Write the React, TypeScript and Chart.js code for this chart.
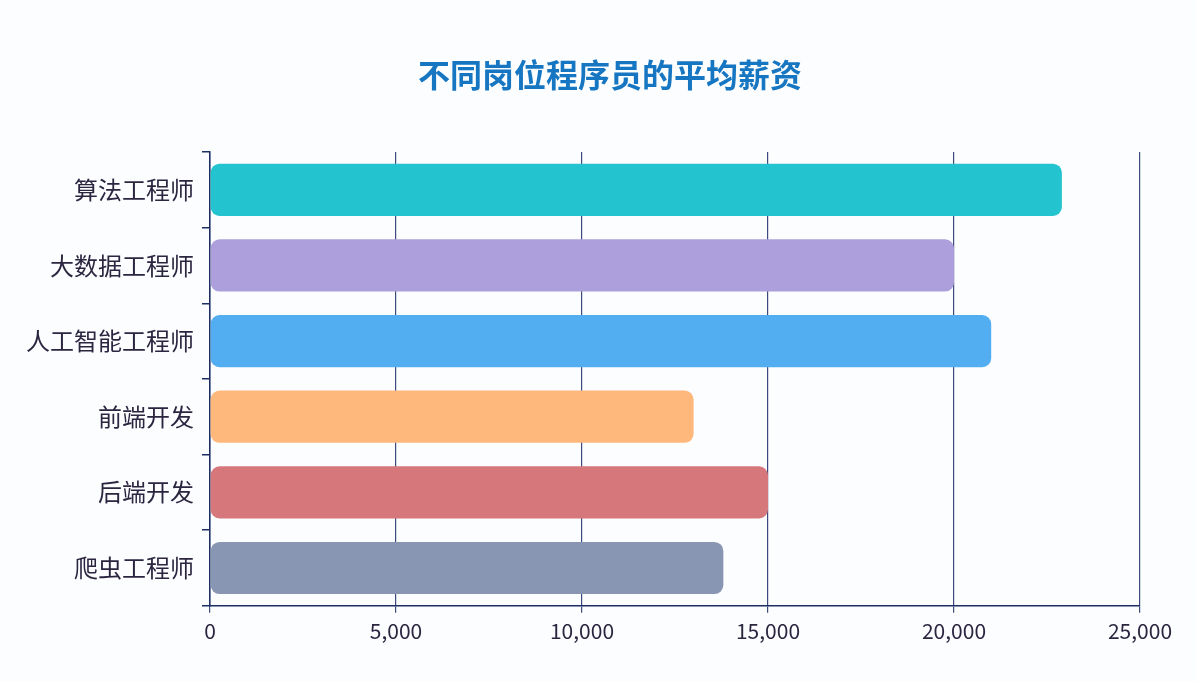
import React, { useEffect, useRef } from 'react';
import Chart from 'chart.js/auto';

const titleText = '不同岗位程序员的平均薪资';
const jobs = ['算法工程师', '大数据工程师', '人工智能工程师', '前端开发', '后端开发', '爬虫工程师'];
const salaries = [22900, 20000, 21000, 13000, 15000, 13800];
const barColors = ['#24c3d0', '#ac9fdc', '#52aef0', '#feb87b', '#d6777b', '#8896b3'];
const xTicks = [0, 5000, 10000, 15000, 20000, 25000];

const font = '"Noto Sans CJK SC", "Noto Sans", sans-serif';

// title drawn a bit right of the canvas centre, as in the original picture
const titlePlugin = {
    id: 'offsetTitle',
    afterDraw(chart: any) {
        const c = chart.ctx;
        c.save();
        c.font = `bold 32px ${font}`;
        c.fillStyle = '#1676c2';
        c.textAlign = 'center';
        c.textBaseline = 'middle';
        c.fillText(titleText, chart.width / 2 + 12, 75);
        c.restore();
    }
};

const App: React.FC = () => {
    const chartRef = useRef<HTMLCanvasElement>(null);
    const chartInstance = useRef<Chart | null>(null);

    useEffect(() => {
        document.body.style.margin = '0';
        document.body.style.background = '#fcfdff';
        if (chartRef.current) {
            if (chartInstance.current) {
                chartInstance.current.destroy();
            }
            const ctx = chartRef.current.getContext('2d');
            if (ctx) {
                chartInstance.current = new Chart(ctx, {
                    type: 'bar',
                    data: {
                        labels: jobs,
                        datasets: [{
                            data: salaries,
                            backgroundColor: barColors,
                            borderRadius: 9,
                            borderSkipped: false,
                            barPercentage: 0.69,
                            categoryPercentage: 1
                        }]
                    },
                    options: {
                        indexAxis: 'y',
                        animation: false,
                        responsive: false,
                        layout: { padding: { left: 18, right: 56, top: 152, bottom: 32 } },
                        plugins: {
                            legend: { display: false },
                            tooltip: { enabled: false },
                            title: { display: false }
                        },
                        scales: {
                            x: {
                                min: 0,
                                max: 25000,
                                afterBuildTicks: (axis: any) => {
                                    axis.ticks = xTicks.map(v => ({ value: v }));
                                },
                                ticks: {
                                    color: '#2b2540',
                                    font: { family: font, size: 21 },
                                    padding: 6,
                                    callback: (v: any) => Number(v).toLocaleString('en-US')
                                },
                                grid: {
                                    color: '#3d4a7e',
                                    lineWidth: 1.2,
                                    tickLength: 7
                                },
                                border: { color: '#1d2f62', width: 1.5 }
                            },
                            y: {
                                ticks: {
                                    color: '#2b2540',
                                    font: { family: font, size: 24 },
                                    padding: 8
                                },
                                grid: {
                                    offset: true,
                                    drawOnChartArea: false,
                                    color: '#1d2f62',
                                    lineWidth: 1.5,
                                    tickLength: 8
                                },
                                border: { color: '#1d2f62', width: 1.5 }
                            }
                        }
                    },
                    plugins: [titlePlugin]
                });
            }
        }
        return () => {
            if (chartInstance.current) {
                chartInstance.current.destroy();
                chartInstance.current = null;
            }
        };
    }, []);

    return (
        <div style={{ width: 1196, height: 682, background: '#fcfdff' }}>
            <canvas ref={chartRef} width={1196} height={682} />
        </div>
    );
};

export default App;
